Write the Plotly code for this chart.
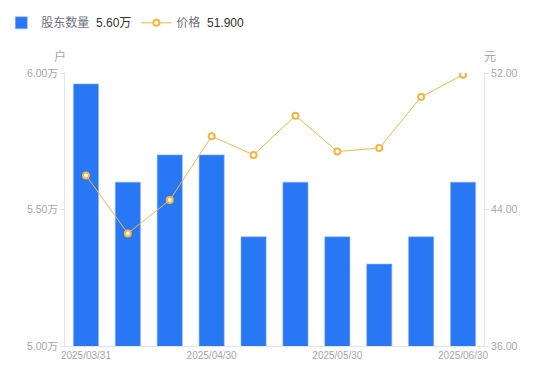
import plotly.graph_objects as go

dates = ["2025/03/31", "2025/04/10", "2025/04/20", "2025/04/30", "2025/05/10",
         "2025/05/20", "2025/05/30", "2025/06/10", "2025/06/20", "2025/06/30"]
holders = [5.96, 5.60, 5.70, 5.70, 5.40, 5.60, 5.40, 5.30, 5.40, 5.60]  # 万户
price = [46.0, 42.6, 44.55, 48.3, 47.2, 49.5, 47.4, 47.6, 50.6, 51.9]
xtick_labels = ["2025/03/31", "2025/04/30", "2025/05/30", "2025/06/30"]
left_ticks = [5.0, 5.5, 6.0]
left_tick_text = ["5.00万", "5.50万", "6.00万"]
right_ticks = [36, 44, 52]
right_tick_text = ["36.00", "44.00", "52.00"]

FONT = "Liberation Sans, Noto Sans CJK SC, sans-serif"
tick_color = "#a3a6b4"
axis_color = "#e3e5ea"

fig = go.Figure()
fig.add_trace(go.Bar(
    x=dates, y=holders, base=0, width=0.6,
    marker=dict(color="#2878f5", line=dict(color="#8ab4fa", width=0.6)),
    name="股东数量  <span style='color:#333333'>5.60万</span>",
    yaxis="y",
))
fig.add_trace(go.Scatter(
    x=dates, y=price, mode="lines+markers",
    line=dict(color="#f8b53c", width=1),
    marker=dict(symbol="circle", size=6, color="white", line=dict(color="#f8b53c", width=2)),
    name="价格  <span style='color:#333333'>51.900</span>",
    yaxis="y2",
))

fig.update_layout(
    width=550, height=381,
    margin=dict(l=65, r=66, t=73, b=35, autoexpand=False),
    paper_bgcolor="white", plot_bgcolor="white",
    font=dict(family=FONT, size=11, color=tick_color),
    bargap=0.4,
    showlegend=True,
    legend=dict(orientation="h", x=-0.152, y=1.237, xanchor="left", yanchor="top",
                font=dict(size=12, color="#6e717c", family=FONT),
                itemwidth=30, traceorder="normal", tracegroupgap=0),
    xaxis=dict(
        type="category", range=[-0.5, 9.5], automargin=False,
        tickmode="array", tickvals=xtick_labels, ticktext=xtick_labels,
        showline=True, linecolor=axis_color, linewidth=1,
        ticks="", showgrid=False, zeroline=False,
        tickfont=dict(size=10, color=tick_color),
    ),
    yaxis=dict(
        range=[5.0, 6.0], tickvals=left_ticks, ticktext=left_tick_text, automargin=False,
        showline=True, linecolor=axis_color, linewidth=1,
        ticks="outside", ticklen=4, tickcolor=axis_color,
        showgrid=False, zeroline=False,
        tickfont=dict(size=10.5, color=tick_color),
    ),
    yaxis2=dict(
        range=[36, 52], tickvals=right_ticks, ticktext=right_tick_text, automargin=False,
        overlaying="y", side="right",
        showline=True, linecolor=axis_color, linewidth=1,
        ticks="outside", ticklen=4, tickcolor=axis_color,
        showgrid=False, zeroline=False,
        tickfont=dict(size=10.5, color=tick_color),
    ),
    annotations=[
        dict(text="户", xref="paper", yref="paper", x=-0.012, y=1.059,
             xanchor="center", yanchor="middle", showarrow=False,
             font=dict(size=12, color=tick_color)),
        dict(text="元", xref="paper", yref="paper", x=1.014, y=1.059,
             xanchor="center", yanchor="middle", showarrow=False,
             font=dict(size=12, color=tick_color)),
    ],
)

fig.write_html("out.html", config={"displayModeBar": False},
               post_script="document.body.style.margin='0px';")
